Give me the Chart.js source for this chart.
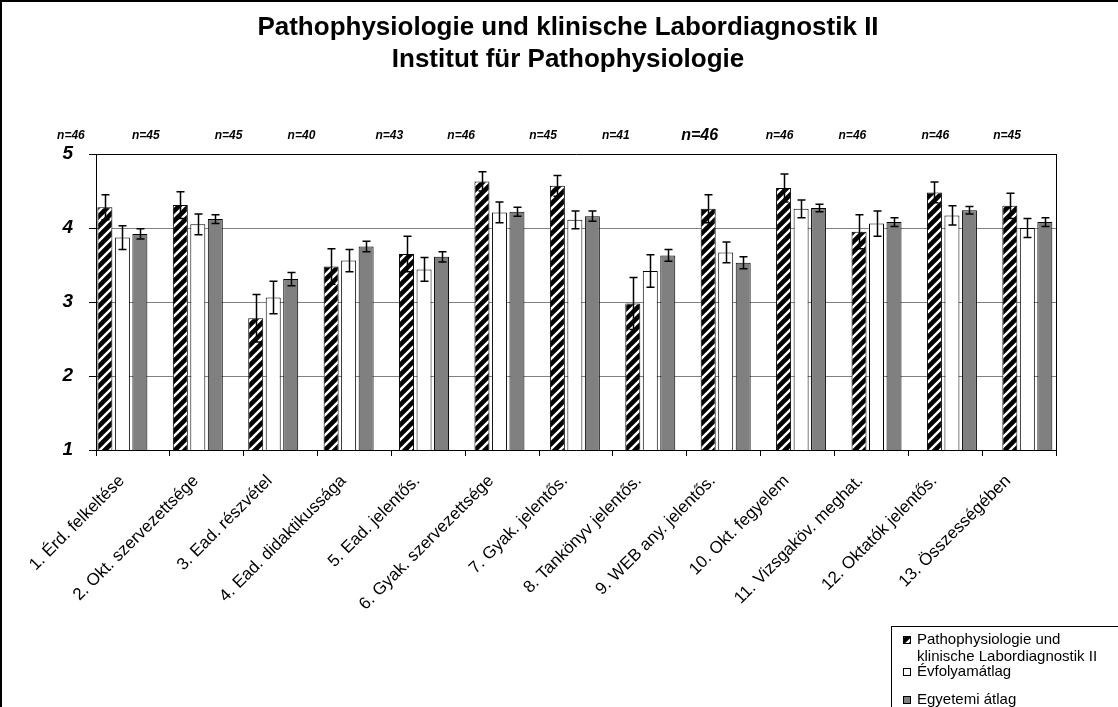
<!DOCTYPE html>
<html>
<head>
<meta charset="utf-8">
<script src="https://cdn.jsdelivr.net/npm/chart.js@4/dist/chart.umd.min.js"></script>
<style>
  html, body { margin: 0; padding: 0; background: #fff; }
  #wrap { width: 1118px; height: 707px; }
</style>
</head>
<body>
<div id="wrap"><canvas id="chart" width="1118" height="707"></canvas></div>
<script>
const categories = [
  '1. Érd. felkeltése',
  '2. Okt. szervezettsége',
  '3. Ead. részvétel',
  '4. Ead. didaktikussága',
  '5. Ead. jelentős.',
  '6. Gyak. szervezettsége',
  '7. Gyak. jelentős.',
  '8. Tankönyv jelentős.',
  '9. WEB any. jelentős.',
  '10. Okt. fegyelem',
  '11. Vizsgaköv. meghat.',
  '12. Oktatók jelentős.',
  '13. Összességében'
];
const seriesNames = ['Pathophysiologie und klinische Labordiagnostik II', 'Évfolyamátlag', 'Egyetemi átlag'];

const pathoValues = [4.28, 4.31, 2.78, 3.48, 3.65, 4.63, 4.57, 2.98, 4.26, 4.54, 3.95, 4.48, 4.30];
const pathoErrors = [0.17, 0.18, 0.32, 0.24, 0.24, 0.13, 0.14, 0.35, 0.19, 0.19, 0.23, 0.14, 0.17];
const yearValues = [3.87, 4.05, 3.06, 3.56, 3.44, 4.21, 4.11, 3.42, 3.67, 4.26, 4.06, 4.17, 4.00];
const yearErrors = [0.16, 0.14, 0.22, 0.15, 0.16, 0.14, 0.12, 0.22, 0.14, 0.12, 0.17, 0.13, 0.13];
const uniValues = [3.92, 4.12, 3.31, 3.75, 3.61, 4.22, 4.16, 3.63, 3.53, 4.27, 4.08, 4.24, 4.08];
const uniErrors = [0.07, 0.06, 0.09, 0.07, 0.07, 0.06, 0.07, 0.08, 0.08, 0.05, 0.06, 0.05, 0.06];
const nCounts = [46, 45, 45, 40, 43, 46, 45, 41, 46, 46, 46, 46, 45];
const yTicks = [1, 2, 3, 4, 5];

// layout bits (px), not data
const nLabelShift = [-62, -61, -52, -53, -39, -41, -33, -34, -24, -18, -19, -10, -12];
const nBigIndex = 8;
const FONT = "'Liberation Sans', Arial, sans-serif";

function makeHatch() {
  const c = document.createElement('canvas');
  c.width = 10; c.height = 10;
  const g = c.getContext('2d');
  g.fillStyle = '#000';
  g.fillRect(0, 0, 10, 10);
  g.strokeStyle = '#fff';
  g.lineWidth = 2.4;
  g.beginPath();
  g.moveTo(-2, 12); g.lineTo(12, -2);
  g.moveTo(-2, 2); g.lineTo(2, -2);
  g.moveTo(8, 12); g.lineTo(12, 8);
  g.stroke();
  return g.createPattern(c, 'repeat');
}
const hatch = makeHatch();

const toPoints = vals => vals.map((v, i) => ({ x: i, y: v }));

const errorBars = {
  id: 'errorBars',
  afterDatasetsDraw(chart) {
    const ctx = chart.ctx;
    const y = chart.scales.y;
    ctx.save();
    ctx.strokeStyle = '#000';
    ctx.lineWidth = 1.5;
    chart.data.datasets.forEach((ds, i) => {
      if (!ds.errors) return;
      chart.getDatasetMeta(i).data.forEach((bar, j) => {
        const v = ds.data[j].y, e = ds.errors[j];
        const x = Math.round(bar.x) + 0.5;
        const top = y.getPixelForValue(v + e);
        const bot = y.getPixelForValue(v - e);
        ctx.beginPath();
        ctx.moveTo(x, top); ctx.lineTo(x, bot);
        ctx.moveTo(x - 4, top); ctx.lineTo(x + 4, top);
        ctx.moveTo(x - 4, bot); ctx.lineTo(x + 4, bot);
        ctx.stroke();
      });
    });
    ctx.restore();
  }
};

const decor = {
  id: 'decor',
  beforeDraw(chart) {
    const ctx = chart.ctx;
    ctx.save();
    ctx.fillStyle = '#fff';
    ctx.fillRect(0, 0, chart.width, chart.height);
    ctx.restore();
  },
  afterDraw(chart) {
    const ctx = chart.ctx;
    const a = chart.chartArea;
    const xs = chart.scales.x;
    ctx.save();
    // outer frame
    ctx.strokeStyle = '#000';
    ctx.lineWidth = 2;
    ctx.beginPath();
    ctx.moveTo(1, chart.height); ctx.lineTo(1, 1); ctx.lineTo(chart.width, 1);
    ctx.stroke();
    // right side of plot frame
    ctx.lineWidth = 1;
    ctx.beginPath();
    ctx.moveTo(Math.round(a.right) + 0.5, a.top);
    ctx.lineTo(Math.round(a.right) + 0.5, a.bottom);
    ctx.stroke();

    // title
    ctx.fillStyle = '#000';
    ctx.textAlign = 'center';
    ctx.textBaseline = 'middle';
    ctx.font = 'bold 26px ' + FONT;
    ctx.fillText('Pathophysiologie und klinische Labordiagnostik II', 568, 28);
    ctx.fillText('Institut für Pathophysiologie', 568, 60);

    // n labels
    nCounts.forEach((n, i) => {
      ctx.font = 'italic bold ' + (i === nBigIndex ? 16 : 12) + 'px ' + FONT;
      ctx.fillText('n=' + n, xs.getPixelForValue(i) + nLabelShift[i], a.top - 18);
    });

    // legend
    const lx = 891, ly = 626;
    ctx.lineWidth = 1;
    ctx.strokeRect(lx + 0.5, ly + 0.5, chart.width, 200);
    ctx.font = '15px ' + FONT;
    ctx.textAlign = 'left';
    const items = [
      { lines: ['Pathophysiologie und', 'klinische Labordiagnostik II'], y: 640, fill: hatch },
      { lines: [seriesNames[1]], y: 672, fill: '#fff' },
      { lines: [seriesNames[2]], y: 700, fill: '#808080' }
    ];
    items.forEach(it => {
      ctx.fillStyle = it.fill;
      ctx.fillRect(903, it.y - 4, 8, 8);
      ctx.strokeRect(903.5, it.y - 3.5, 7, 7);
      ctx.fillStyle = '#000';
      it.lines.forEach((t, k) => ctx.fillText(t, 917, it.y + k * 17));
    });
    ctx.restore();
  }
};

const barStyle = { xAxisID: 'xb', yAxisID: 'y', borderColor: '#000', borderWidth: 1 };

new Chart(document.getElementById('chart'), {
  type: 'bar',
  data: {
    labels: categories,
    datasets: [
      { ...barStyle, label: seriesNames[0], data: toPoints(pathoValues), errors: pathoErrors, backgroundColor: hatch },
      { ...barStyle, label: seriesNames[1], data: toPoints(yearValues), errors: yearErrors, backgroundColor: '#fff' },
      { ...barStyle, label: seriesNames[2], data: toPoints(uniValues), errors: uniErrors, backgroundColor: '#808080' }
    ]
  },
  options: {
    responsive: false,
    devicePixelRatio: 1,
    animation: false,
    categoryPercentage: 0.696,
    barPercentage: 0.857,
    layout: { padding: { top: 154, right: 62, left: 0, bottom: 0 } },
    plugins: {
      legend: { display: false },
      title: { display: false },
      tooltip: { enabled: false }
    },
    scales: {
      xb: {
        type: 'linear', display: false, offset: false,
        min: -0.35, max: 12.38
      },
      x: {
        type: 'category', position: 'bottom', offset: true,
        afterFit: s => { s.height = 257; },
        grid: { offset: true, drawOnChartArea: false, tickLength: 6, color: '#000' },
        border: { color: '#000', width: 1 },
        ticks: {
          autoSkip: false, minRotation: 45, maxRotation: 45,
          color: '#000', padding: 15, labelOffset: -11,
          font: { family: FONT, size: 17 }
        }
      },
      y: {
        min: 1, max: 5,
        afterFit: s => { s.width = 96; },
        afterBuildTicks: s => { s.ticks = yTicks.map(v => ({ value: v })); },
        grid: {
          color: c => (c.tick && c.tick.value === 5 ? '#000' : '#808080'),
          tickColor: '#000', tickLength: 7
        },
        border: { color: '#000', width: 1 },
        ticks: {
          color: '#000', padding: 16,
          font: { family: FONT, size: 19, style: 'italic', weight: 'bold' }
        }
      }
    }
  },
  plugins: [errorBars, decor]
});
</script>
</body>
</html>
